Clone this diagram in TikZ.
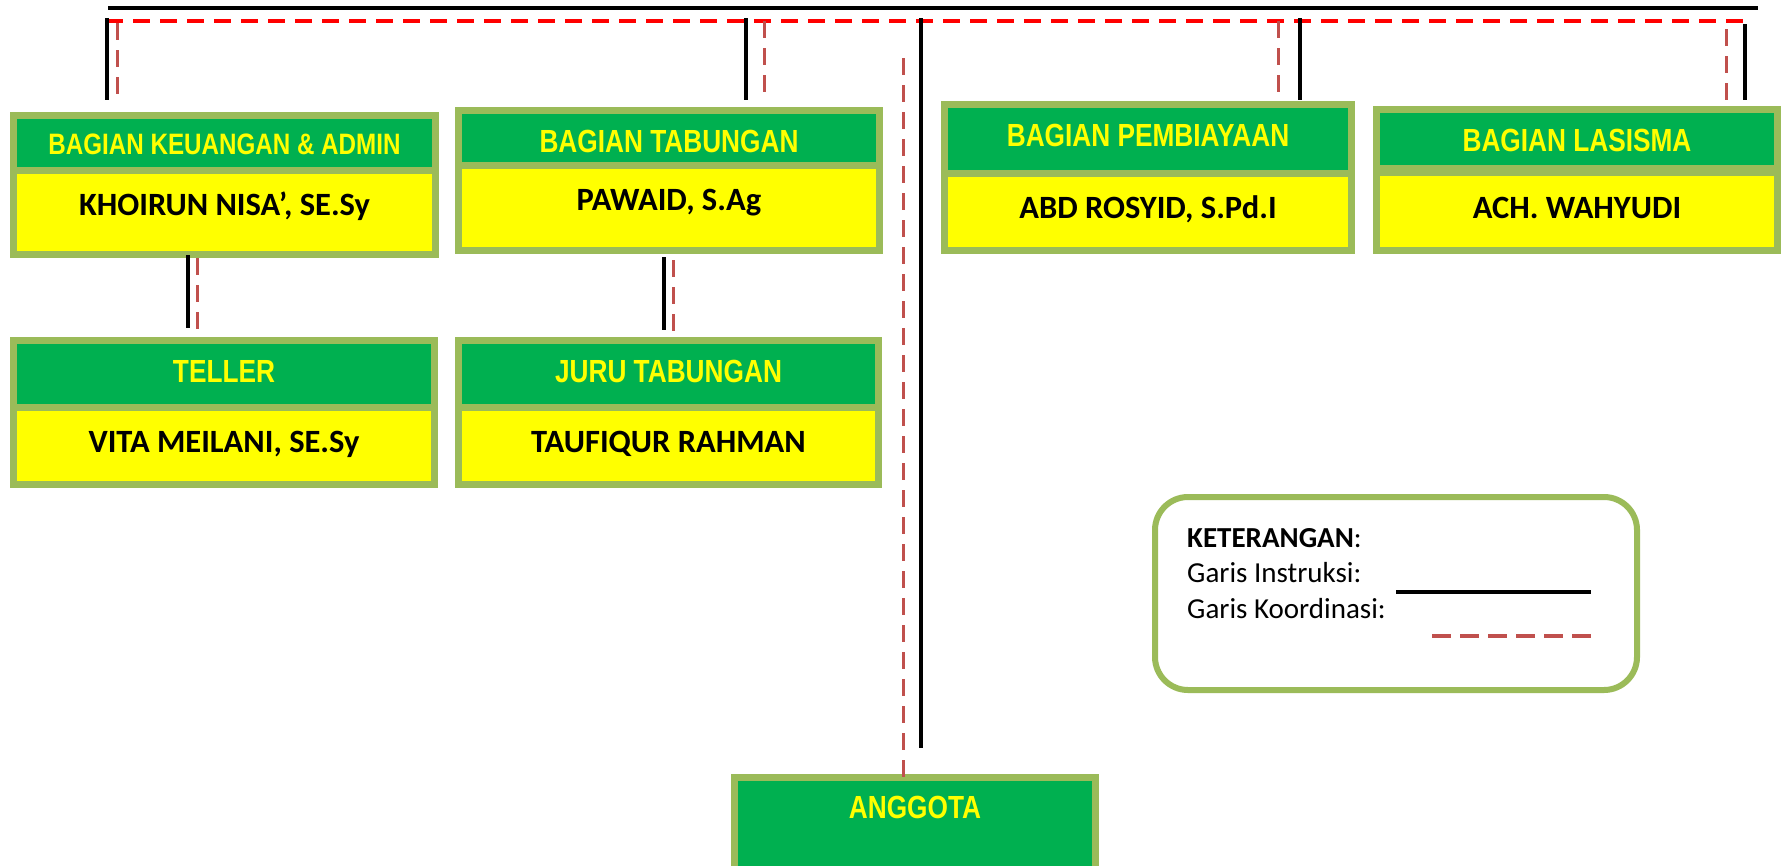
\documentclass[tikz,border=0pt]{standalone}
\usepackage{fontspec}
\setmainfont{Carlito}
\newfontfamily\hdrfont[FakeStretch=0.82]{Liberation Sans}
\definecolor{bord}{HTML}{9BBB59}
\definecolor{boxgreen}{HTML}{00B050}
\definecolor{boxyellow}{HTML}{FFFF00}
\definecolor{busred}{HTML}{FF0000}
\definecolor{dashred}{HTML}{C0504D}
\tikzset{
  hbox/.style={draw=bord, line width=7pt, fill=boxgreen, outer sep=0pt, inner sep=0pt, anchor=north west},
  ybox/.style={draw=bord, line width=7pt, fill=boxyellow, outer sep=0pt, inner sep=0pt, anchor=north west},
  htext/.style={text=boxyellow, font=\hdrfont\bfseries\fontsize{32}{38}\selectfont, anchor=base, inner sep=0pt},
  ntext/.style={text=black, font=\bfseries\fontsize{32.5}{38}\selectfont, anchor=base, inner sep=0pt},
  legbox/.style={draw=bord, line width=6pt, fill=white, rounded corners=33pt, outer sep=0pt, inner sep=0pt, anchor=north west},
  legtext/.style={font=\fontsize{29}{36}\selectfont, anchor=base west, inner sep=0pt},
  instr/.style={draw=black, line width=3.5pt},
  koord/.style={draw=dashred, line width=3pt, dash pattern=on 17pt off 10pt},
  busk/.style={draw=busred, line width=4pt, dash pattern=on 17pt off 10pt},
}
\begin{document}
\begin{tikzpicture}[x=1pt,y=-1pt]
\useasboundingbox (0,0) rectangle (1785,865);
\clip (0,0) rectangle (1785,865);
\fill[white] (0,0) rectangle (1785,865);

% ---------- boxes ----------
% Keuangan
\node[ybox, minimum width=422pt, minimum height=84pt] (keuB) at (13.5,170.5) {};
\node[hbox, minimum width=422pt, minimum height=55pt] (keuH) at (13.5,115.5) {};
\node[htext, font=\hdrfont\bfseries\fontsize{29.5}{36}\selectfont] (keuHt) at (224.5,154.6) {BAGIAN KEUANGAN \& ADMIN};
\node[ntext] (keuN) at (224.5,215.5) {KHOIRUN NISA’, SE.Sy};
% Tabungan
\node[ybox, minimum width=421pt, minimum height=85.5pt] (tabB) at (458.5,165) {};
\node[hbox, minimum width=421pt, minimum height=54.5pt] (tabH) at (458.5,110.5) {};
\node[htext] (tabHt) at (669,152.7) {BAGIAN TABUNGAN};
\node[ntext] (tabN) at (669,210.5) {PAWAID, S.Ag};
% Pembiayaan
\node[ybox, minimum width=407pt, minimum height=77.5pt] (pemB) at (944.5,173) {};
\node[hbox, minimum width=407pt, minimum height=68.5pt] (pemH) at (944.5,104.5) {};
\node[htext] (pemHt) at (1148,146) {BAGIAN PEMBIAYAAN};
\node[ntext] (pemN) at (1148,218) {ABD ROSYID, S.Pd.I};
% Lasisma
\node[ybox, minimum width=401pt, minimum height=78pt] (lasB) at (1376.5,172.5) {};
\node[hbox, minimum width=401pt, minimum height=59pt] (lasH) at (1376.5,109.5) {};
\node[htext] (lasHt) at (1577,151.5) {BAGIAN LASISMA};
\node[ntext] (lasN) at (1577,218) {ACH. WAHYUDI};
% Teller
\node[ybox, minimum width=421pt, minimum height=77pt] (telB) at (13.5,407.5) {};
\node[hbox, minimum width=421pt, minimum height=67pt] (telH) at (13.5,340.5) {};
\node[htext] (telHt) at (224,382.7) {TELLER};
\node[ntext] (telN) at (224,452) {VITA MEILANI, SE.Sy};
% Juru Tabungan
\node[ybox, minimum width=420pt, minimum height=77pt] (jurB) at (458.5,407.5) {};
\node[hbox, minimum width=420pt, minimum height=67pt] (jurH) at (458.5,340.5) {};
\node[htext] (jurHt) at (668.5,382.7) {JURU TABUNGAN};
\node[ntext] (jurN) at (668.5,452) {TAUFIQUR RAHMAN};
% Anggota
\node[hbox, minimum width=361pt, minimum height=130pt] (angH) at (734.5,777.5) {};
\node[htext] (angHt) at (915,818.5) {ANGGOTA};

% ---------- connectors ----------
\coordinate (bL) at (108,8);   \coordinate (bR) at (1758,8);
\coordinate (rL) at (106,21);  \coordinate (rR) at (1745,21);
\draw[instr, line width=4pt] (bL) -- (bR);
\draw[busk] (rL) -- (rR);

% instruction lines (black)
\coordinate (ki1) at (107,18);  \coordinate (ki2) at (107,100);
\coordinate (ti1) at (746,18);  \coordinate (ti2) at (746,100);
\coordinate (mi1) at (921,18);  \coordinate (mi2) at (921,748);
\coordinate (pi1) at (1300,18); \coordinate (pi2) at (1300,100);
\coordinate (li1) at (1745,24); \coordinate (li2) at (1745,100);
\coordinate (kti1) at (188,255); \coordinate (kti2) at (188,328);
\coordinate (tji1) at (664,257); \coordinate (tji2) at (664,330);
\draw[instr] (ki1) -- (ki2);
\draw[instr] (ti1) -- (ti2);
\draw[instr] (mi1) -- (mi2);
\draw[instr] (pi1) -- (pi2);
\draw[instr] (li1) -- (li2);
\draw[instr] (kti1) -- (kti2);
\draw[instr] (tji1) -- (tji2);

% coordination lines (dashed red)
\coordinate (kk1) at (117,23);  \coordinate (kk2) at (117,97);
\coordinate (tk1) at (764,21);  \coordinate (tk2) at (764,95);
\coordinate (mk1) at (903,58);
\coordinate (pk1) at (1278,21); \coordinate (pk2) at (1278,97);
\coordinate (lk1) at (1726,29); \coordinate (lk2) at (1726,100);
\coordinate (ktk1) at (197,258); \coordinate (ktk2) at (197,330);
\coordinate (tjk1) at (673,260); \coordinate (tjk2) at (673,332);
\draw[koord] (kk1) -- (kk2);
\draw[koord] (tk1) -- (tk2);
\draw[koord] (mk1) -- (mk1 |- angH.north);
\draw[koord] (pk1) -- (pk2);
\draw[koord] (lk1) -- (lk2);
\draw[koord] (ktk1) -- (ktk2);
\draw[koord] (tjk1) -- (tjk2);

% ---------- legend ----------
\node[legbox, minimum width=482pt, minimum height=193pt] (leg) at (1155,497) {};
\node[legtext] (legT) at (1187,547) {\textbf{KETERANGAN}:};
\node[legtext] (legI) at (1187,582) {Garis Instruksi:};
\node[legtext] (legK) at (1187,618) {Garis Koordinasi:};
\coordinate (lgi1) at (1396,592); \coordinate (lgi2) at (1591,592);
\coordinate (lgk1) at (1432,636); \coordinate (lgk2) at (1591,636);
\draw[instr, line width=4pt] (lgi1) -- (lgi2);
\draw[draw=dashred, line width=4pt, dash pattern=on 19pt off 9pt] (lgk1) -- (lgk2);
\end{tikzpicture}
\end{document}
